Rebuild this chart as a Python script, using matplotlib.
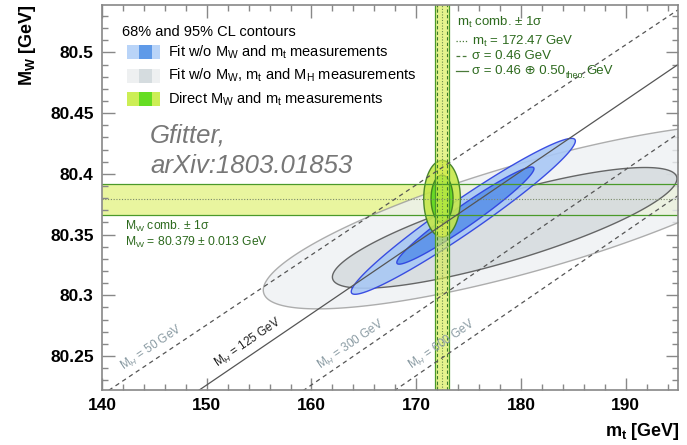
import numpy as np
import matplotlib
matplotlib.use('Agg')
import matplotlib.pyplot as plt
from matplotlib.patches import Rectangle
from matplotlib.lines import Line2D

plt.rcParams['font.family'] = ['Liberation Sans', 'DejaVu Sans']
plt.rcParams['mathtext.fontset'] = 'custom'
plt.rcParams['mathtext.rm'] = 'Liberation Sans'
plt.rcParams['mathtext.it'] = 'Liberation Sans:italic'
plt.rcParams['mathtext.bf'] = 'Liberation Sans:bold'

# axis ranges
mt_range = [140, 195]
mw_range = [80.222, 80.539]

# direct measurements
mt_meas = 172.47
mt_err_exp = 0.46
mt_err_tot = 0.68   # 0.46 (+) 0.50 theo
mw_meas = 80.379
mw_err = 0.013

# contours: centre mt, centre MW, half-width in mt, half-height in MW, correlation
grey_95 = [181.0, 80.365, 25.6, 0.0762, 0.797]
grey_68 = [178.45, 80.3555, 16.45, 0.0497, 0.815]
blue_95 = [174.5, 80.365, 10.7, 0.0642, 0.966]
blue_68 = [174.7, 80.3656, 6.55, 0.040, 0.965]
green_95 = [172.47, 80.3795, 1.75, 0.0315, 0.0]
green_68 = [172.47, 80.3795, 1.05, 0.0195, 0.0]

# SM lines for fixed MH: MW at mt=140 and at mt=195
mh_values = [50, 125, 300, 600]
mw_at_140 = [80.218, 80.1675, 80.108, 80.056]
mw_at_195 = [80.535, 80.490, 80.433, 80.382]
label_mt = [142.5, 151.5, 161.3, 170.0]

W, H = 687, 445


def fx(px):
    return px / W


def fy(py):
    return 1 - py / H


def contour(p, n=300):
    cx, cy, hx, hy, rho = p
    t = np.linspace(0, 2 * np.pi, n)
    x = cx + hx * np.cos(t)
    y = cy + hy * (rho * np.cos(t) + np.sqrt(1 - rho ** 2) * np.sin(t))
    return x, y


fig = plt.figure(figsize=(6.87, 4.45), dpi=100)
ax = fig.add_axes([fx(102), fy(390), (678 - 102) / W, (390 - 5) / H])
ax.set_xlim(mt_range)
ax.set_ylim(mw_range)

band_col = '#d8ee50'

# horizontal MW band
ax.axhspan(mw_meas - mw_err, mw_meas + mw_err, color=band_col, alpha=0.55, lw=0, zorder=1)

# grey contours
x, y = contour(grey_95)
ax.fill(x, y, fc='#eef1f3', ec='#9a9a9a', lw=1.0, alpha=0.8, zorder=2)
x, y = contour(grey_68)
ax.fill(x, y, fc='#d3d9dc', ec='#454545', lw=1.0, alpha=0.8, zorder=2.1)

# blue contours
x, y = contour(blue_95)
ax.fill(x, y, fc='#a9c8f5', ec='#2a3ee0', lw=1.0, alpha=0.9, zorder=2.2)
x, y = contour(blue_68)
ax.fill(x, y, fc='#5a92ea', ec='#2a3ee0', lw=1.0, alpha=0.9, zorder=2.3)

# green contours
x, y = contour(green_95)
ax.fill(x, y, fc='#c6e84a', ec='#3a7a20', lw=1.0, alpha=0.9, zorder=2.4)
x, y = contour(green_68)
ax.fill(x, y, fc='#5fd820', ec='#3a7a20', lw=1.0, alpha=0.9, zorder=2.5)

# vertical mt band
ax.axvspan(mt_meas - mt_err_tot, mt_meas + mt_err_tot, color=band_col, alpha=0.65, lw=0, zorder=3)
for s in (-1, 1):
    ax.axvline(mt_meas + s * mt_err_tot, color='#4a9a2a', lw=0.9, zorder=4)
    ax.axvline(mt_meas + s * mt_err_exp, color='#3a7a2a', lw=0.8, ls=(0, (3, 2)), zorder=4)
    ax.axhline(mw_meas + s * mw_err, color='#4a9a2a', lw=0.9, zorder=4)
ax.axvline(mt_meas, color='#6a8a4a', lw=0.8, ls=(0, (1, 1.5)), zorder=4)
ax.axhline(mw_meas, color='#7a8a6a', lw=0.8, ls=(0, (1, 1.5)), zorder=4)

# SM lines for fixed MH
for i, mh in enumerate(mh_values):
    ls = '-' if mh == 125 else (0, (3.5, 3))
    ax.plot(mt_range, [mw_at_140[i], mw_at_195[i]], color='#555555', lw=0.9, ls=ls, zorder=5)
    p1 = ax.transData.transform((140, mw_at_140[i]))
    p2 = ax.transData.transform((195, mw_at_195[i]))
    ang = np.degrees(np.arctan2(p2[1] - p1[1], p2[0] - p1[0]))
    slope = (mw_at_195[i] - mw_at_140[i]) / 55.0
    mw_l = mw_at_140[i] + slope * (label_mt[i] - 140)
    off = 2.5
    col = '#222222' if mh == 125 else '#8a9ba3'
    ax.annotate(r'M$_{H}$ = %d GeV' % mh, xy=(label_mt[i], mw_l),
                xytext=(-off * np.sin(np.radians(ang)), off * np.cos(np.radians(ang))),
                textcoords='offset points', rotation=ang, rotation_mode='anchor',
                ha='left', va='bottom', fontsize=8.5, color=col, zorder=6)

# axes style
ax.set_xticks([140, 150, 160, 170, 180, 190])
ax.set_xticks(np.arange(140, 196, 2), minor=True)
ax.set_yticks([80.25, 80.3, 80.35, 80.4, 80.45, 80.5])
ax.set_yticklabels(['80.25', '80.3', '80.35', '80.4', '80.45', '80.5'])
ax.set_yticks(np.arange(80.23, 80.539, 0.01), minor=True)
ax.tick_params(which='both', direction='in', top=True, right=True, color='#888888', width=1)
ax.tick_params(which='major', length=9, labelsize=12.5, pad=6)
ax.tick_params(which='minor', length=4.5)
for lab in ax.get_xticklabels() + ax.get_yticklabels():
    lab.set_fontweight('bold')
for sp in ax.spines.values():
    sp.set_color('#888888')
    sp.set_linewidth(1.2)
    sp.set_zorder(10)

fig.text(fx(27), fy(45), r'M$_\mathbf{W}$ [GeV]', rotation=90, ha='center', va='center',
         fontsize=13, fontweight='bold')
fig.text(fx(680), fy(432), r'm$_\mathbf{t}$ [GeV]', ha='right', va='center',
         fontsize=13, fontweight='bold')

# left legend
fig.text(fx(122), fy(32), '68% and 95% CL contours', fontsize=10.5, va='center')
swatches = [('#b9d4f8', '#5f9ae8'), ('#eef0f1', '#d5dcdf'), ('#ccee55', '#66dd22')]
entries = [r'Fit w/o M$_{\rm W}$ and m$_{\rm t}$ measurements',
           r'Fit w/o M$_{\rm W}$, m$_{\rm t}$ and M$_{\rm H}$ measurements',
           r'Direct M$_{\rm W}$ and m$_{\rm t}$ measurements']
for i, (lab, (c_out, c_in)) in enumerate(zip(entries, swatches)):
    yc = 52 + i * 23.5
    fig.add_artist(Rectangle((fx(127), fy(yc + 7)), 33 / W, 14 / H, fc=c_out, ec='none',
                             transform=fig.transFigure))
    fig.add_artist(Rectangle((fx(139), fy(yc + 7)), 13 / W, 14 / H, fc=c_in, ec='none',
                             transform=fig.transFigure))
    fig.text(fx(168), fy(yc), lab, fontsize=10.5, va='center')

fig.text(fx(150), fy(135), 'Gfitter,', fontsize=18.5, style='italic', color='#777777', va='center')
fig.text(fx(150), fy(166), 'arXiv:1803.01853', fontsize=18.5, style='italic', color='#777777',
         va='center')

# right legend (mt)
tcol = '#2d6a1e'
fig.text(fx(457), fy(22), r'm$_{\rm t}$ comb. ± 1σ', fontsize=9.5, color=tcol, va='center')
rl = [((0, (1, 1.5)), r'm$_{\rm t}$ = 172.47 GeV'),
      ((0, (3, 2)), 'σ = 0.46 GeV'),
      ('-', 'σ = 0.46 ⊕ 0.50')]
for i, (ls, lab) in enumerate(rl):
    yc = 41 + i * 15
    fig.add_artist(Line2D([fx(456), fx(468)], [fy(yc), fy(yc)], color='#4a7a3a', lw=0.9, ls=ls,
                          transform=fig.transFigure))
    last = fig.text(fx(472), fy(yc), lab, fontsize=9.5, color=tcol, va='center')

# subscript "theo." and unit after the last entry
renderer = fig.canvas.get_renderer()
bb = last.get_window_extent(renderer)
sub = fig.text(bb.x1 / W + 0.5 / W, fy(41 + 2 * 15 + 4), 'theo.', fontsize=6.5, color=tcol,
               va='center')
bb2 = sub.get_window_extent(renderer)
fig.text(bb2.x1 / W + 1 / W, fy(41 + 2 * 15), 'GeV', fontsize=9.5, color=tcol, va='center')

# MW text
fig.text(fx(125), fy(226), r'M$_{\rm W}$ comb. ± 1σ', fontsize=8.7, color=tcol, va='center')
fig.text(fx(125), fy(242), r'M$_{\rm W}$ = 80.379 ± 0.013 GeV', fontsize=8.7, color=tcol,
         va='center')

fig.savefig('out.png', dpi=100)
